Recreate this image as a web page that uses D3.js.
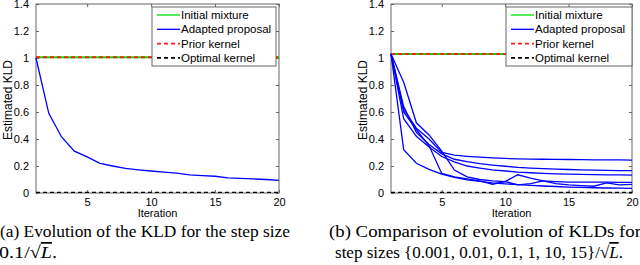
<!DOCTYPE html>
<html><head><meta charset="utf-8">
<script src="https://cdn.jsdelivr.net/npm/d3@7"></script>
<style>body{margin:0;background:#fff}svg{display:block}</style>
</head><body>
<script>
const iterations = d3.range(1, 21);
const xTicks = [5, 10, 15, 20];
const yTicks = [0, 0.2, 0.4, 0.6, 0.8, 1, 1.2, 1.4];
const legendLabels = ["Initial mixture", "Adapted proposal", "Prior kernel", "Optimal kernel"];

// panel (a): step size 0.1/sqrt(L)
const adaptedA = [1.0, 0.59, 0.415, 0.31, 0.267, 0.22, 0.2, 0.182, 0.172, 0.163, 0.155, 0.147, 0.134, 0.128, 0.124, 0.112, 0.108, 0.104, 0.1, 0.094];
const initialA = 1.005, priorA = 1.005, optimalA = 0.004;

// panel (b): six step sizes
const adaptedB = [
  [1.03, 0.62, 0.48, 0.40, 0.30, 0.28, 0.272, 0.265, 0.26, 0.256, 0.253, 0.251, 0.25, 0.249, 0.248, 0.247, 0.246, 0.245, 0.245, 0.244],
  [1.03, 0.64, 0.45, 0.36, 0.29, 0.25, 0.232, 0.218, 0.207, 0.198, 0.19, 0.185, 0.18, 0.177, 0.174, 0.171, 0.169, 0.167, 0.166, 0.165],
  [1.03, 0.55, 0.42, 0.34, 0.27, 0.23, 0.2, 0.185, 0.172, 0.163, 0.155, 0.15, 0.146, 0.142, 0.14, 0.138, 0.136, 0.135, 0.134, 0.133],
  [1.03, 0.32, 0.22, 0.175, 0.14, 0.115, 0.098, 0.086, 0.075, 0.068, 0.062, 0.057, 0.052, 0.048, 0.044, 0.041, 0.039, 0.037, 0.036, 0.035],
  [1.03, 0.82, 0.52, 0.43, 0.31, 0.17, 0.12, 0.1, 0.09, 0.085, 0.135, 0.11, 0.09, 0.085, 0.08, 0.08, 0.08, 0.08, 0.079, 0.079],
  [1.03, 0.60, 0.47, 0.35, 0.145, 0.12, 0.105, 0.09, 0.065, 0.085, 0.06, 0.07, 0.09, 0.07, 0.06, 0.055, 0.05, 0.075, 0.06, 0.064]
];
const initialB = 1.03, priorB = 1.03, optimalB = 0.004;

const W = 640, H = 265;
const svg = d3.select("body").append("svg").attr("width", W).attr("height", H);

function panel(x0, x1, adapted, initV, priorV, optV, legend) {
  const x = d3.scaleLinear().domain([1, 20]).range([x0, x1]);
  const y = d3.scaleLinear().domain([0, 1.4]).range([193, 4]);
  const g = svg.append("g");
  const axCol = "#666";
  g.append("rect").attr("x", x0).attr("y", 4).attr("width", x1 - x0).attr("height", 189)
    .attr("fill", "none").attr("stroke", axCol).attr("stroke-width", 1);
  const fontCss = "font-family:'Liberation Sans',Arial,sans-serif;font-size:11px";
  const ax = g.append("g").attr("transform", `translate(0,193)`)
    .call(d3.axisBottom(x).tickValues(xTicks).tickSize(-3).tickPadding(7));
  const axT = g.append("g").attr("transform", `translate(0,4)`)
    .call(d3.axisTop(x).tickValues(xTicks).tickSize(-3).tickFormat(""));
  const ay = g.append("g").attr("transform", `translate(${x0},0)`)
    .call(d3.axisLeft(y).tickValues(yTicks).tickSize(-3).tickPadding(7).tickFormat(d => d3.format("")(+d.toFixed(1))));
  const ayR = g.append("g").attr("transform", `translate(${x1},0)`)
    .call(d3.axisRight(y).tickValues(yTicks).tickSize(-3).tickFormat(""));
  [ax, axT, ay, ayR].forEach(a => {
    a.select(".domain").remove();
    a.selectAll("line").attr("stroke", axCol);
    a.selectAll("text").attr("style", fontCss).attr("fill", "#000");
  });
  ax.selectAll("text").attr("dy", "0.5em");
  g.append("text").attr("x", (x0 + x1) / 2).attr("y", 217).attr("text-anchor", "middle")
    .attr("style", fontCss).text("Iteration");
  g.append("text").attr("transform", `translate(${x0 - 24.5},100) rotate(-90)`).attr("text-anchor", "middle")
    .attr("style", fontCss.replace("11px", "12px")).text("Estimated KLD");

  const line = d3.line().x((d, i) => x(iterations[i])).y(d => y(d));
  g.append("line").attr("x1", x(1)).attr("x2", x(20)).attr("y1", y(initV)).attr("y2", y(initV))
    .attr("stroke", "#00e000").attr("stroke-width", 2);
  g.append("line").attr("x1", x(1)).attr("x2", x(20)).attr("y1", y(priorV)).attr("y2", y(priorV))
    .attr("stroke", "#ff1a1a").attr("stroke-width", 2).attr("stroke-dasharray", "4,3");
  adapted.forEach(s => {
    g.append("path").datum(s).attr("d", line).attr("fill", "none")
      .attr("stroke", "#0000ff").attr("stroke-width", 1.3);
  });
  g.append("line").attr("x1", x(1)).attr("x2", x(20)).attr("y1", y(optV)).attr("y2", y(optV))
    .attr("stroke", "#000").attr("stroke-width", 1.3).attr("stroke-dasharray", "4,3");

  const L = legend;
  const lg = g.append("g");
  lg.append("rect").attr("x", L.x).attr("y", 7).attr("width", L.w).attr("height", 59)
    .attr("fill", "#fff").attr("stroke", axCol).attr("stroke-width", 1);
  const styles = [
    {c: "#00e000", d: null}, {c: "#0000ff", d: null}, {c: "#ff1a1a", d: "4,3"}, {c: "#000", d: "4,3"}
  ];
  legendLabels.forEach((t, i) => {
    const yy = 15 + i * 14.3;
    const ln = lg.append("line").attr("x1", L.x + 5).attr("x2", L.x + 28).attr("y1", yy).attr("y2", yy)
      .attr("stroke", styles[i].c).attr("stroke-width", i >= 2 ? 1.6 : 1.3);
    if (styles[i].d) ln.attr("stroke-dasharray", styles[i].d);
    lg.append("text").attr("x", L.x + 29).attr("y", yy).attr("dy", "0.36em")
      .attr("style", "font-family:'Liberation Sans',Arial,sans-serif;font-size:11.5px").text(t);
  });
}

panel(36, 279, [adaptedA], initialA, priorA, optimalA, {x: 152, w: 124});
panel(391, 632, adaptedB, initialB, priorB, optimalB, {x: 506, w: 126});

const capCss = "font-family:'Liberation Serif','Times New Roman',serif;font-size:17px";
function caption(x, y, len, parts) {
  const t = svg.append("text").attr("x", x).attr("y", y).attr("style", capCss).attr("fill", "#000")
    .attr("textLength", len).attr("lengthAdjust", "spacingAndGlyphs");
  parts.forEach(p => {
    const s = t.append("tspan").text(p.t);
    if (p.it) s.attr("font-style", "italic");
    if (p.ov) s.attr("text-decoration", "overline");
  });
  return t;
}
caption(0, 237, 290, [{t: "(a) Evolution of the KLD for the step size"}]);
caption(-1, 258, 58, [{t: "0.1/√"}, {t: "L", it: true, ov: true}, {t: "."}]);
caption(329, 237, 312, [{t: "(b) Comparison of evolution of KLDs for"}]);
caption(335, 258, 288, [{t: "step sizes {0.001, 0.01, 0.1, 1, 10, 15}/√"}, {t: "L", it: true, ov: true}, {t: "."}]);
</script>
</body></html>
